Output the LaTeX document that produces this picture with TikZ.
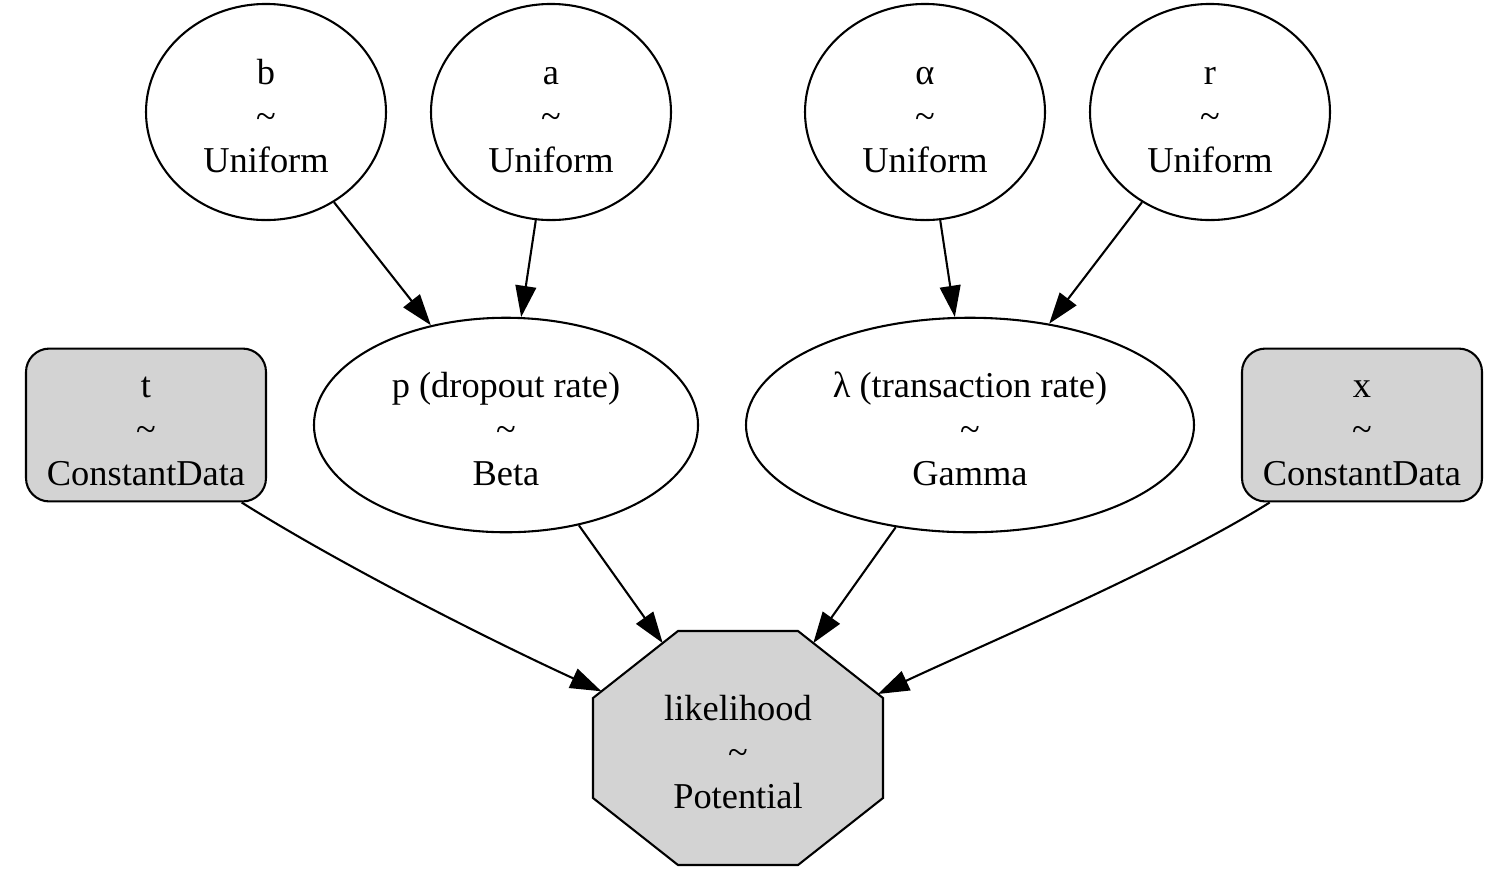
\documentclass[tikz,border=0pt]{standalone}
\usepackage{fontspec}
\setmainfont{Liberation Serif}
\usetikzlibrary{arrows.meta,shapes.geometric,calc}
\definecolor{obsgray}{HTML}{D3D3D3}
\newcommand{\topgap}{\rule{0pt}{13pt}}

\begin{document}
\begin{tikzpicture}[x=0.3846pt,y=-0.3846pt,line width=0.8pt,>={Triangle[length=12pt,width=8pt]}]
        \tikzstyle{every node}=[font=\fontsize{14}{16.9}\selectfont,align=center,inner sep=0pt]
        \tikzstyle{free}=[draw,ellipse,minimum height=82.5pt]
        \tikzstyle{data}=[draw,rectangle,rounded corners=9pt,fill=obsgray,minimum width=92.3pt,minimum height=58.8pt]
        \useasboundingbox (0,0) rectangle (1506,888);
        % priors
        \node[free,minimum width=92.3pt,minimum height=83.1pt] (b) at (266,112) {\topgap b\\\textasciitilde\\Uniform};
        \node[free,minimum width=92.3pt,minimum height=83.1pt] (a) at (551,112) {\topgap a\\\textasciitilde\\Uniform};
        \node[free,minimum width=92.3pt,minimum height=83.1pt] (alpha) at (925,112) {\topgap α\\\textasciitilde\\Uniform};
        \node[free,minimum width=92.3pt,minimum height=83.1pt] (r) at (1210,112) {\topgap r\\\textasciitilde\\Uniform};
        % rates and data
        \node[data] (t) at (146,425) {\topgap t\\\textasciitilde\\ConstantData};
        \node[free,minimum width=147.7pt] (p) at (506,425) {\topgap p (dropout rate)\\\textasciitilde\\Beta};
        \node[free,minimum width=172.3pt] (lambda) at (970,425) {\topgap λ (transaction rate)\\\textasciitilde\\Gamma};
        \node[data] (x) at (1362,425) {\topgap x\\\textasciitilde\\ConstantData};
        % potential
        \filldraw[fill=obsgray] (738,748) +(-60,-117) coordinate (o1) -- +(60,-117) coordinate (o2)
            -- +(145,-50) coordinate (o3) -- +(145,50) -- +(60,117) -- +(-60,117)
            -- +(-145,50) -- +(-145,-50) coordinate (o8) -- cycle;
        \node (like) at (738,748) {\topgap likelihood\\\textasciitilde\\Potential};
        % edges
        \draw[->] (b.-53) -- (p.127);
        \draw[->] (a.-98) -- (p.82);
        \draw[->] (alpha.-82) -- (lambda.98);
        \draw[->] (r.-127) -- (lambda.52);
        \draw[->] (p.-54) -- ($(o1)!0.18!(o8)$);
        \draw[->] (lambda.-126) -- ($(o2)!0.18!(o3)$);
        \draw[->] (t.-39) .. controls +(102,64) and +(-109,-50) .. ($(o8)!0.1!(o1)$);
        \draw[->] (x.-140) .. controls +(-102,64) and +(109,-51) .. ($(o3)!0.06!(o2)$);
\end{tikzpicture}
\end{document}
